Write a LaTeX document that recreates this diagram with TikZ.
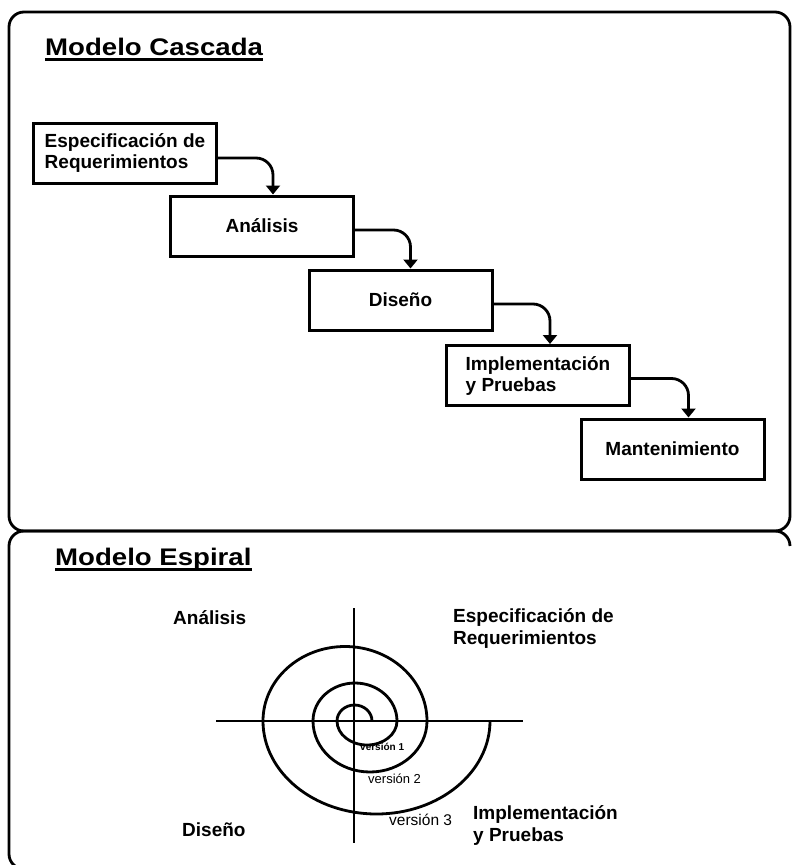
\documentclass[tikz,border=0pt]{standalone}
\usepackage{fontspec}
\setmainfont{Liberation Sans}
\newfontfamily\widefont{Liberation Sans}[FakeStretch=1.15]
\usetikzlibrary{arrows.meta}

\tikzset{
  frame/.style={line width=2.8pt, rounded corners=15pt},
  title/.style={font=\widefont\fontsize{24}{28}\selectfont\bfseries, inner sep=0pt},
  uline/.style={line width=2.2pt},
  stepbox/.style={draw, line width=3pt, minimum width=183pt, minimum height=60pt,
    inner sep=0pt, align=left, font=\fontsize{19}{21}\selectfont\bfseries},
  flow/.style={line width=2.8pt, rounded corners=17pt,
    -{Triangle[width=14pt,length=9pt]}},
  axis/.style={line width=2.8pt},
  spiral/.style={line width=2.8pt},
  lbl/.style={inner sep=0pt, align=left, anchor=base west,
    font=\fontsize{19}{21.5}\selectfont\bfseries},
}

\begin{document}
\begin{tikzpicture}[x=1pt,y=1pt]
\useasboundingbox (0,0) rectangle (792,-865);
\fill[white] (0,0) rectangle (792,-865);

% outer frames
\draw[frame] (9,-12) rectangle (790,-531);
\draw[frame] (790,-546) -- (790,-531) -- (9,-531) -- (9,-869) -- (60,-869);

% ---------- waterfall model ----------
\node[title, anchor=base west] (tc) at (45,-55) {Modelo Cascada};
\draw[uline] ([yshift=-4.5pt]tc.base west) -- ([yshift=-4.5pt]tc.base east);

\node[stepbox] (b1) at (125,-153)   {Especificación de\\Requerimientos};
\node[stepbox] (b2) at (262,-226)   {Análisis};
\node[stepbox] (b3) at (400.5,-300) {Diseño};
\node[stepbox] (b4) at (538,-375.5) {Implementación\\y Pruebas};
\node[stepbox] (b5) at (672.5,-449) {Mantenimiento};

\draw[flow] ([yshift=-5pt]b1.east) -| ([xshift=104pt]b2.north west);
\draw[flow] ([yshift=-4pt]b2.east) -| ([xshift=103pt]b3.north west);
\draw[flow] ([yshift=-4pt]b3.east) -| ([xshift=105pt]b4.north west);
\draw[flow] ([yshift=-3pt]b4.east) -| ([xshift=109pt]b5.north west);

% ---------- spiral model ----------
\node[title, anchor=base west] (te) at (55,-565) {Modelo Espiral};
\draw[uline] ([yshift=-4.5pt]te.base west) -- ([yshift=-4.5pt]te.base east);

\coordinate (vtop) at (354,-608);
\coordinate (vbot) at (354,-843);
\coordinate (hl) at (216,-721);
\coordinate (hr) at (523,-721);
\draw[axis] (vtop) -- (vbot);
\draw[axis] (hl) -- (hr);

\draw[spiral] (372,-721)
  arc[start angle=0,   end angle=180, x radius=17.5,  y radius=16]
  arc[start angle=180, end angle=360, x radius=30,    y radius=24]
  arc[start angle=0,   end angle=180, x radius=42,    y radius=38]
  arc[start angle=180, end angle=360, x radius=57,    y radius=51]
  arc[start angle=0,   end angle=180, x radius=82,    y radius=74.5]
  arc[start angle=180, end angle=360, x radius=113.5, y radius=93];

% quadrant labels (base anchor sits on the last line)
\node[lbl] (qa) at (173,-624) {Análisis};
\node[lbl] (qe) at (453,-644) {Especificación de\\Requerimientos};
\node[lbl] (qd) at (182,-836) {Diseño};
\node[lbl] (qi) at (473,-841) {Implementación\\y Pruebas};

\node[inner sep=0pt, anchor=base west, font=\fontsize{10}{12}\selectfont\bfseries] (v1) at (360,-750) {versión 1};
\node[inner sep=0pt, anchor=base west, font=\fontsize{13}{15}\selectfont] (v2) at (368,-783) {versión 2};
\node[inner sep=0pt, anchor=base west, font=\fontsize{15.5}{18}\selectfont] (v3) at (389,-825) {versión 3};
\end{tikzpicture}
\end{document}
